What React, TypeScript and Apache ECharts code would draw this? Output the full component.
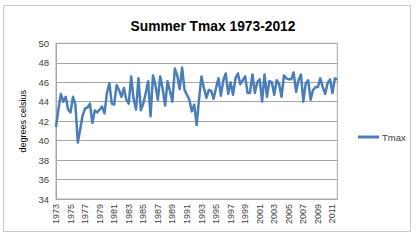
import React, { useEffect, useRef } from "react";
import * as echarts from "echarts";

const TITLE = "Summer Tmax 1973-2012";
const SERIES_NAME = "Tmax";
const Y_NAME = "degrees celsius";
const FIRST_YEAR = 1973;
const LAST_YEAR = 2011;
const POINTS_PER_YEAR = 3;

const TMAX: number[] = [
  41.4, 43.2, 44.8, 44.0, 44.5, 43.2, 42.9, 44.5, 43.7, 39.8,
  41.2, 42.6, 43.3, 43.4, 43.8, 41.8, 43.1, 42.9, 43.2, 43.5,
  42.8, 44.9, 45.9, 43.8, 43.7, 45.7, 45.2, 44.5, 45.4, 44.2,
  43.8, 46.6, 44.3, 43.2, 46.4, 43.1, 43.8, 44.9, 46.1, 42.5,
  46.7, 45.7, 44.2, 46.6, 45.3, 43.6, 46.1, 45.1, 44.0, 47.4,
  46.7, 45.3, 47.5, 45.2, 44.7, 44.2, 43.0, 43.7, 41.6, 44.3,
  46.6, 45.4, 44.4, 45.2, 45.1, 44.3, 45.4, 46.4, 44.6, 46.2,
  46.9, 44.8, 46.0, 44.7, 46.4, 46.9, 45.8, 46.2, 46.6, 44.9,
  44.9, 46.8, 44.9, 46.0, 46.3, 44.0, 46.8, 44.5, 46.1, 46.0,
  44.7, 46.2, 45.8, 44.5, 46.7, 46.4, 46.3, 46.3, 47.0, 45.0,
  46.2, 46.8, 44.0, 45.9, 46.2, 44.2, 45.2, 45.5, 45.5, 46.4,
  45.5, 44.8, 45.9, 46.3, 44.9, 46.4, 46.3,
];

const YEARS: string[] = [];
for (let y = FIRST_YEAR; y <= LAST_YEAR; y++) YEARS.push(String(y));
const CATEGORIES: string[] = [];
YEARS.forEach((y) => {
  for (let k = 0; k < POINTS_PER_YEAR; k++) CATEGORIES.push(y);
});

const Y_MIN = 34;
const Y_MAX = 50;
const Y_STEP = 2;

export default function App() {
  const ref = useRef<HTMLDivElement>(null);
  useEffect(() => {
    if (!ref.current) return;
    const chart = echarts.init(ref.current, undefined, { renderer: "svg" });
    const font = "Liberation Sans";
    chart.setOption({
      animation: false,
      backgroundColor: "#ffffff",
      title: {
        text: TITLE,
        left: 208,
        top: 14,
        textAlign: "center",
        textStyle: { fontFamily: font, fontSize: 13.8, fontWeight: "bold", color: "#000000" },
      },
      legend: {
        data: [SERIES_NAME],
        left: 353,
        top: 127,
        icon: "rect",
        itemWidth: 21,
        itemHeight: 3,
        itemGap: 4,
        textStyle: { fontFamily: font, fontSize: 9.5, color: "#404040", padding: [0, 0, 0, -2] },
      },
      graphic: [
        {
          type: "rect",
          shape: { x: 3.5, y: 5.5, width: 407, height: 226 },
          style: { fill: "none", stroke: "#c8c8c8", lineWidth: 1 },
          silent: true,
          z: -1,
        },
      ],
      grid: {
        left: 56,
        top: 43.3,
        right: 80.7,
        bottom: 43,
        show: true,
        borderColor: "#a6a6a6",
        borderWidth: 1,
      },
      xAxis: {
        type: "category",
        data: CATEGORIES,
        boundaryGap: false,
        axisLine: { lineStyle: { color: "#a6a6a6" } },
        axisTick: { show: false },
        axisLabel: {
          interval: POINTS_PER_YEAR * 2 - 1,
          rotate: 90,
          fontFamily: font,
          fontSize: 9,
          color: "#404040",
          margin: 5,
        },
        splitLine: { show: false },
      },
      yAxis: {
        type: "value",
        min: Y_MIN,
        max: Y_MAX,
        interval: Y_STEP,
        name: Y_NAME,
        nameLocation: "middle",
        nameGap: 29,
        nameRotate: 90,
        nameTextStyle: { fontFamily: font, fontSize: 9, color: "#000000" },
        axisLine: { show: true, lineStyle: { color: "#a6a6a6" } },
        axisTick: { show: false },
        axisLabel: { fontFamily: font, fontSize: 9.5, color: "#404040", margin: 7 },
        splitLine: { lineStyle: { color: "#a6a6a6", width: 1 } },
      },
      series: [
        {
          name: SERIES_NAME,
          type: "line",
          data: TMAX,
          symbol: "none",
          lineStyle: { color: "#4a7ebb", width: 2.5, join: "round" },
          itemStyle: { color: "#4a7ebb" },
        },
      ],
    });
    return () => chart.dispose();
  }, []);
  return (
    <div
      ref={ref}
      style={{ position: "fixed", left: 0, top: 0, width: 418, height: 242, background: "#fff" }}
    />
  );
}
